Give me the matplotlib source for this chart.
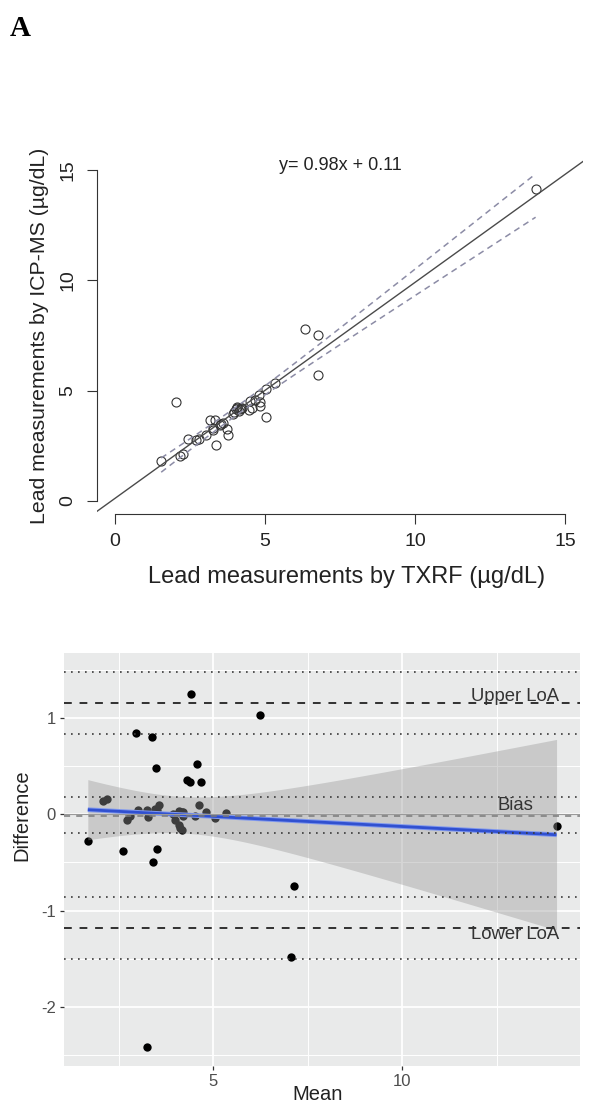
import numpy as np
import matplotlib
matplotlib.use("Agg")
import matplotlib.pyplot as plt

plt.rcParams['font.family'] = ['Liberation Sans', 'DejaVu Sans']
plt.rcParams['axes.unicode_minus'] = False

# paired lead measurements (ug/dL)
txrf = np.array([1.54, 5.04, 6.75, 3.37, 3.78, 3.72, 4.83, 4.48, 4.55, 4.84,
                 4.67, 2.16, 2.28, 2.43, 3.32, 3.15, 2.69, 2.79, 3.04, 3.26,
                 3.25, 3.49, 3.61, 3.52, 3.94, 3.96, 4.12, 4.22, 4.05, 4.08,
                 4.04, 4.51, 4.81, 5.03, 5.34, 6.77, 6.32, 2.04, 14.02, 4.18,
                 4.19])
icpms = np.array([1.82, 3.79, 5.72, 2.53, 2.98, 3.24, 4.31, 4.12, 4.21, 4.50,
                  4.57, 2.02, 2.12, 2.81, 3.68, 3.65, 2.75, 2.81, 3.00, 3.22,
                  3.28, 3.43, 3.51, 3.48, 3.94, 4.02, 4.09, 4.20, 4.19, 4.24,
                  4.15, 4.53, 4.79, 5.07, 5.33, 7.51, 7.80, 4.46, 14.14, 4.16,
                  4.21])

# regression reported on the top panel
SLOPE = 0.98
INTERCEPT = 0.11
eq_label = "y= 0.98x + 0.11"

# Bland-Altman lines
bias = -0.0125
bias_ci = [-0.197, 0.177]
upper_loa = 1.153
upper_ci = [0.831, 1.475]
lower_loa = -1.178
lower_ci = [-1.506, -0.856]

T975 = 2.02

fig = plt.figure(figsize=(5.98, 11.10), dpi=100)
W, H = 598.0, 1110.0

# ---------------- top: scatter with regression ----------------
ax1 = fig.add_axes([97 / W, 1 - 514 / H, (583 - 97) / W, (514 - 157) / H])
ax1.set_xlim(-0.6, 15.6)
ax1.set_ylim(-0.6, 15.6)

ax1.plot(txrf, icpms, 'o', mfc='none', mec='#333333', ms=6.5, mew=0.8)

xl = np.array(ax1.get_xlim())
ax1.plot(xl, SLOPE * xl + INTERCEPT, color='#4a4a4a', lw=1.0)

# confidence band around the fitted line
n = len(txrf)
res = icpms - (SLOPE * txrf + INTERCEPT)
s = np.sqrt(np.sum(res ** 2) / (n - 2))
xb = np.linspace(txrf.min(), txrf.max(), 100)
sxx = np.sum((txrf - txrf.mean()) ** 2)
half = T975 * s * np.sqrt(1 / n + (xb - txrf.mean()) ** 2 / sxx)
yb = SLOPE * xb + INTERCEPT
ax1.plot(xb, yb + half, color='#8c8ca6', lw=1.1, ls=(0, (4, 3)))
ax1.plot(xb, yb - half, color='#8c8ca6', lw=1.1, ls=(0, (4, 3)))

ax1.spines['top'].set_visible(False)
ax1.spines['right'].set_visible(False)
for sp in ['left', 'bottom']:
    ax1.spines[sp].set_bounds(0, 15)
    ax1.spines[sp].set_color('#333333')
    ax1.spines[sp].set_linewidth(0.8)
ax1.set_xticks([0, 5, 10, 15])
ax1.set_yticks([0, 5, 10, 15])
ax1.tick_params(direction='out', length=7, width=0.8, colors='#333333',
                labelcolor='#222222', labelsize=14)
ax1.tick_params(axis='x', pad=7)
ax1.tick_params(axis='y', pad=8, labelrotation=90)
for lab in ax1.get_yticklabels():
    lab.set_va('center')

fig.text(340 / W, 1 - 166 / H, eq_label, ha='center', va='center',
         fontsize=13, color='#222222')
fig.text(347 / W, 1 - 577 / H, "Lead measurements by TXRF (µg/dL)",
         ha='center', va='center', fontsize=17, color='#222222')
fig.text(40 / W, 1 - 336 / H, "Lead measurements by ICP-MS (µg/dL)",
         ha='center', va='center', rotation=90, fontsize=15.3, color='#222222')

fig.text(20 / W, 1 - 28 / H, "A", ha='center', va='center', fontsize=21,
         fontweight='bold', family=['Liberation Serif', 'DejaVu Serif'])

# ---------------- bottom: Bland-Altman ----------------
mean = (txrf + icpms) / 2
diff = txrf - icpms

ax2 = fig.add_axes([64 / W, 1 - 1066 / H, (580 - 64) / W, (1066 - 653) / H])
ax2.set_facecolor('#E9EAEA')
ax2.set_xlim(1.05, 14.70)
ax2.set_ylim(-2.613, 1.675)
for sp in ax2.spines.values():
    sp.set_visible(False)

ax2.set_xticks([5, 10])
ax2.set_xticks([2.5, 7.5, 12.5], minor=True)
ax2.set_yticks([-2, -1, 0, 1])
ax2.set_yticks([-2.5, -1.5, -0.5, 0.5, 1.5], minor=True)
ax2.grid(which='major', color='white', lw=1.3)
ax2.grid(which='minor', color='white', lw=0.7)
ax2.set_axisbelow(True)
ax2.tick_params(which='major', direction='out', length=3, width=0.9,
                colors='#333333', labelcolor='#4D4D4D', labelsize=12, pad=3)
ax2.tick_params(which='minor', length=0)

ax2.scatter(mean, diff, s=36, color='black', lw=0, zorder=3)

# lm smoother with 95% band
b1, b0 = np.polyfit(mean, diff, 1)
xs = np.linspace(mean.min(), mean.max(), 80)
ys = b0 + b1 * xs
r2 = diff - (b0 + b1 * mean)
s2 = np.sqrt(np.sum(r2 ** 2) / (len(mean) - 2))
sxx2 = np.sum((mean - mean.mean()) ** 2)
h2 = T975 * s2 * np.sqrt(1 / len(mean) + (xs - mean.mean()) ** 2 / sxx2)
ax2.fill_between(xs, ys - h2, ys + h2, color='#999999', alpha=0.4, lw=0, zorder=4)
ax2.plot(xs, ys, color='#8098ee', lw=3.4, zorder=5, solid_capstyle='butt')
ax2.plot(xs, ys, color='#3050d0', lw=2.0, zorder=5, solid_capstyle='butt')

ax2.axhline(0, color='#9a9a9a', lw=0.8, zorder=6)
ax2.axhline(bias, color='#7a7a7a', lw=1.1, ls=(0, (4, 4)), zorder=6)
for yv in [upper_loa, lower_loa]:
    ax2.axhline(yv, color='#303030', lw=1.4, ls=(0, (4, 4)), zorder=6)
for yv in bias_ci + upper_ci + lower_ci:
    ax2.axhline(yv, color='#3a3a3a', lw=1.2, ls=(0, (1, 3.2)), zorder=6)

ax2.text(12.98, upper_loa + 0.066, "Upper LoA", ha='center', va='center',
         fontsize=13.3, color='#333333', zorder=7)
ax2.text(12.98, bias + 0.10, "Bias", ha='center', va='center',
         fontsize=13.3, color='#333333', zorder=7)
ax2.text(12.98, lower_loa - 0.072, "Lower LoA", ha='center', va='center',
         fontsize=13.3, color='#333333', zorder=7)

fig.text(318 / W, 1 - 1095 / H, "Mean", ha='center', va='center',
         fontsize=14.5, color='#222222')
fig.text(22 / W, 1 - 815 / H, "Difference", ha='center', va='center',
         rotation=90, fontsize=14.5, color='#222222')

fig.savefig("out.png", dpi=100)
